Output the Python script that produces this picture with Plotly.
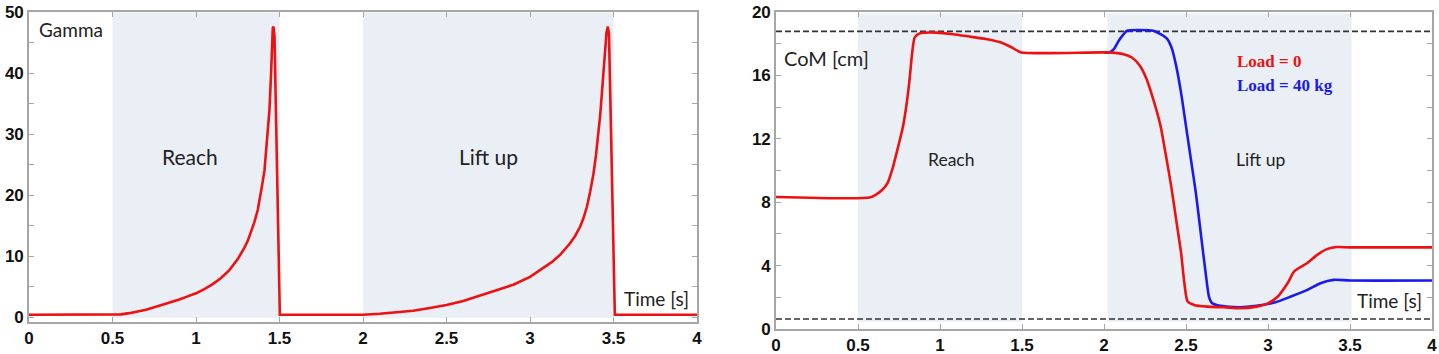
import plotly.graph_objects as go

# ---------------- data ----------------
GAMMA_T = [0.0, 0.50, 0.55, 0.60, 0.65, 0.70, 0.75, 0.80, 0.85, 0.90, 0.95, 1.00, 1.05, 1.10, 1.15,
           1.20, 1.25, 1.27, 1.29, 1.31, 1.33, 1.35, 1.37, 1.38, 1.395, 1.41, 1.42, 1.43, 1.44,
           1.448, 1.454, 1.460, 1.464, 1.470, 1.502,
           2.00, 2.10, 2.20, 2.30, 2.40, 2.50, 2.60, 2.70, 2.80, 2.90, 3.00, 3.08, 3.13, 3.18,
           3.21, 3.24, 3.27, 3.30, 3.32, 3.34, 3.36, 3.38, 3.395, 3.41, 3.42, 3.43, 3.44, 3.45,
           3.458, 3.466, 3.473, 3.508, 4.0]
GAMMA_V = [0.4, 0.4, 0.45, 0.65, 0.9, 1.2, 1.6, 2.0, 2.45, 2.9, 3.4, 3.9, 4.6, 5.4, 6.4,
           7.7, 9.5, 10.4, 11.4, 12.5, 14.0, 15.6, 17.6, 19.0, 21.5, 24.0, 27.0, 30.0, 34.0,
           39.0, 44.0, 47.4, 47.6, 46.0, 0.4,
           0.4, 0.55, 0.75, 1.05, 1.5, 2.0, 2.65, 3.5, 4.35, 5.3, 6.6, 8.0, 9.0, 10.2,
           11.1, 12.1, 13.3, 14.8, 16.2, 18.0, 20.5, 23.5, 26.5, 30.0, 33.0, 36.5, 40.5, 44.1,
           46.6, 47.6, 46.4, 0.4, 0.4]

COM_T_RED = [0.0, 0.57, 0.61, 0.65, 0.68, 0.71, 0.74, 0.775, 0.795, 0.815, 0.83, 0.846, 0.876, 0.978,
             1.08, 1.18, 1.28, 1.38, 1.44, 1.495, 2.02, 2.12, 2.17, 2.22, 2.26, 2.30, 2.345, 2.375,
             2.41, 2.44, 2.47, 2.49, 2.51, 2.55, 2.63, 2.73, 2.83, 2.93, 3.00, 3.06, 3.12, 3.16,
             3.24, 3.30, 3.36, 3.42, 3.50, 4.0]
COM_RED = [8.33, 8.29, 8.48, 8.8, 9.2, 10.1, 11.3, 12.8, 14.1, 15.8, 17.4, 18.4, 18.65, 18.7,
           18.6, 18.45, 18.3, 18.05, 17.75, 17.45, 17.45, 17.34, 17.13, 16.6, 15.76, 14.5, 12.8, 11.1,
           9.0, 6.9, 4.8, 2.9, 1.73, 1.52, 1.41, 1.37, 1.31, 1.41, 1.62, 2.05, 2.9, 3.63,
           4.16, 4.68, 5.04, 5.17, 5.15, 5.15]

COM_T_BLUE = [2.00, 2.03, 2.06, 2.09, 2.12, 2.14, 2.22, 2.30, 2.345, 2.385, 2.415, 2.44, 2.47, 2.50,
              2.53, 2.56, 2.59, 2.62, 2.64, 2.66, 2.71, 2.83, 2.93, 3.04, 3.14, 3.24, 3.32, 3.40,
              3.50, 4.0]
COM_BLUE = [17.45, 17.45, 17.66, 18.19, 18.6, 18.82, 18.86, 18.82, 18.6, 18.3, 17.66, 16.6, 14.9, 12.8,
            10.7, 8.6, 6.05, 3.52, 2.05, 1.62, 1.46, 1.37, 1.46, 1.67, 2.05, 2.47, 2.89, 3.1,
            3.06, 3.06]

DASH_LEVELS = [18.78, 0.63]
PHASES_LEFT = [(0.5, 1.5), (2.0, 3.5)]
PHASES_RIGHT = [(0.5, 1.5), (2.02, 3.51)]
X_TICKS = [0, 0.5, 1, 1.5, 2, 2.5, 3, 3.5, 4]
X_TICK_TEXT = ["0", "0.5", "1", "1.5", "2", "2.5", "3", "3.5", "4"]
LEFT_Y_TICKS = [0, 10, 20, 30, 40, 50]
RIGHT_Y_TICKS = [0, 4, 8, 12, 16, 20]

# ---------------- styles ----------------
W, H = 1439, 354
RED = "#ee1111"
BLUE = "#1a1aee"
SHADE = "#eaeff5"
FRAME = "#a6a6a6"
TXT_FONT = "Lato, 'Open Sans', sans-serif"
SERIF = "Liberation Serif, 'Times New Roman', serif"
TICK_FONT = dict(family="Liberation Sans, Arial, sans-serif", size=17, color="#111")


def bold(labels):
    return ["<b>%s</b>" % t for t in labels]


def xdom(a, b):
    return [a / W, b / W]


def ydom(top, bottom):
    return [(H - bottom) / H, (H - top) / H]


fig = go.Figure()

fig.add_trace(go.Scatter(x=GAMMA_T, y=GAMMA_V, mode="lines",
                         line=dict(color=RED, width=2.6),
                         xaxis="x", yaxis="y", showlegend=False, hoverinfo="skip"))

for lvl in DASH_LEVELS:
    fig.add_trace(go.Scatter(x=[0, 4], y=[lvl, lvl], mode="lines",
                             line=dict(color="#333333", width=1.6, dash="6px,3px"),
                             xaxis="x2", yaxis="y2", showlegend=False, hoverinfo="skip"))

fig.add_trace(go.Scatter(x=COM_T_BLUE, y=COM_BLUE, mode="lines",
                         line=dict(color=BLUE, width=2.6, shape="spline", smoothing=0.6),
                         xaxis="x2", yaxis="y2", showlegend=False, hoverinfo="skip"))
fig.add_trace(go.Scatter(x=COM_T_RED, y=COM_RED, mode="lines",
                         line=dict(color=RED, width=2.6, shape="spline", smoothing=0.6),
                         xaxis="x2", yaxis="y2", showlegend=False, hoverinfo="skip"))

shapes = []
for a, b in PHASES_LEFT:
    shapes.append(dict(type="rect", xref="x", yref="y", x0=a, x1=b, y0=-0.1, y1=49.9,
                       fillcolor=SHADE, line=dict(width=0), layer="below"))
for a, b in PHASES_RIGHT:
    shapes.append(dict(type="rect", xref="x2", yref="y2", x0=a, x1=b, y0=0.45, y1=19.9,
                       fillcolor=SHADE, line=dict(width=0), layer="below"))


def ann(text, x, y, xr, yr, size, color="#222", xanchor="center", family=TXT_FONT):
    return dict(text=text, x=x, y=y, xref=xr, yref=yr, showarrow=False, xanchor=xanchor,
                yanchor="middle", font=dict(family=family, size=size, color=color))


annotations = [
    ann("Gamma", 0.05, 47.1, "x", "y", 19, xanchor="left"),
    ann("Reach", 0.967, 26.4, "x", "y", 21),
    ann("Lift up", 2.75, 26.3, "x", "y", 21),
    ann("Time [s]", 3.76, 3.0, "x", "y", 19),
    ann("CoM [cm]", 0.305, 17.07, "x2", "y2", 20),
    ann("Reach", 1.067, 10.7, "x2", "y2", 17.5),
    ann("Lift up", 2.957, 10.7, "x2", "y2", 17.5),
    ann("Time [s]", 3.74, 1.77, "x2", "y2", 19),
    ann("<b>Load = 0</b>", 2.799, 16.88, "x2", "y2", 17, color=RED, xanchor="left", family=SERIF),
    ann("<b>Load = 40 kg</b>", 2.799, 15.38, "x2", "y2", 17, color=BLUE, xanchor="left", family=SERIF),
]

axis_common = dict(showgrid=False, zeroline=False, showline=True, linecolor=FRAME, linewidth=1.6,
                   mirror="ticks", ticks="inside", ticklen=5, tickwidth=1.3, tickcolor=FRAME,
                   tickfont=TICK_FONT, fixedrange=True)

fig.update_layout(
    width=W, height=H,
    margin=dict(l=0, r=0, t=0, b=0, autoexpand=False),
    paper_bgcolor="white", plot_bgcolor="white",
    xaxis=dict(domain=xdom(29, 697), range=[0, 4], tickvals=X_TICKS, ticktext=bold(X_TICK_TEXT),
               anchor="y", **axis_common),
    yaxis=dict(domain=ydom(12, 322), range=[-0.8, 50], tickvals=LEFT_Y_TICKS,
               ticktext=bold([str(v) for v in LEFT_Y_TICKS]), anchor="x",
               minor=dict(dtick=5, ticks="inside", ticklen=5, tickcolor=FRAME, tickwidth=1.3),
               **axis_common),
    xaxis2=dict(domain=xdom(776, 1432), range=[0, 4], tickvals=X_TICKS, ticktext=bold(X_TICK_TEXT),
                anchor="y2", **axis_common),
    yaxis2=dict(domain=ydom(12, 329), range=[0, 20], tickvals=RIGHT_Y_TICKS,
                ticktext=bold([str(v) for v in RIGHT_Y_TICKS]), anchor="x2",
                minor=dict(dtick=2, ticks="inside", ticklen=5, tickcolor=FRAME, tickwidth=1.3),
                **axis_common),
    shapes=shapes,
    annotations=annotations,
)

fig.write_html("out.html", config={"displayModeBar": False},
               post_script="document.body.style.margin='0';document.body.style.overflow='hidden';")
